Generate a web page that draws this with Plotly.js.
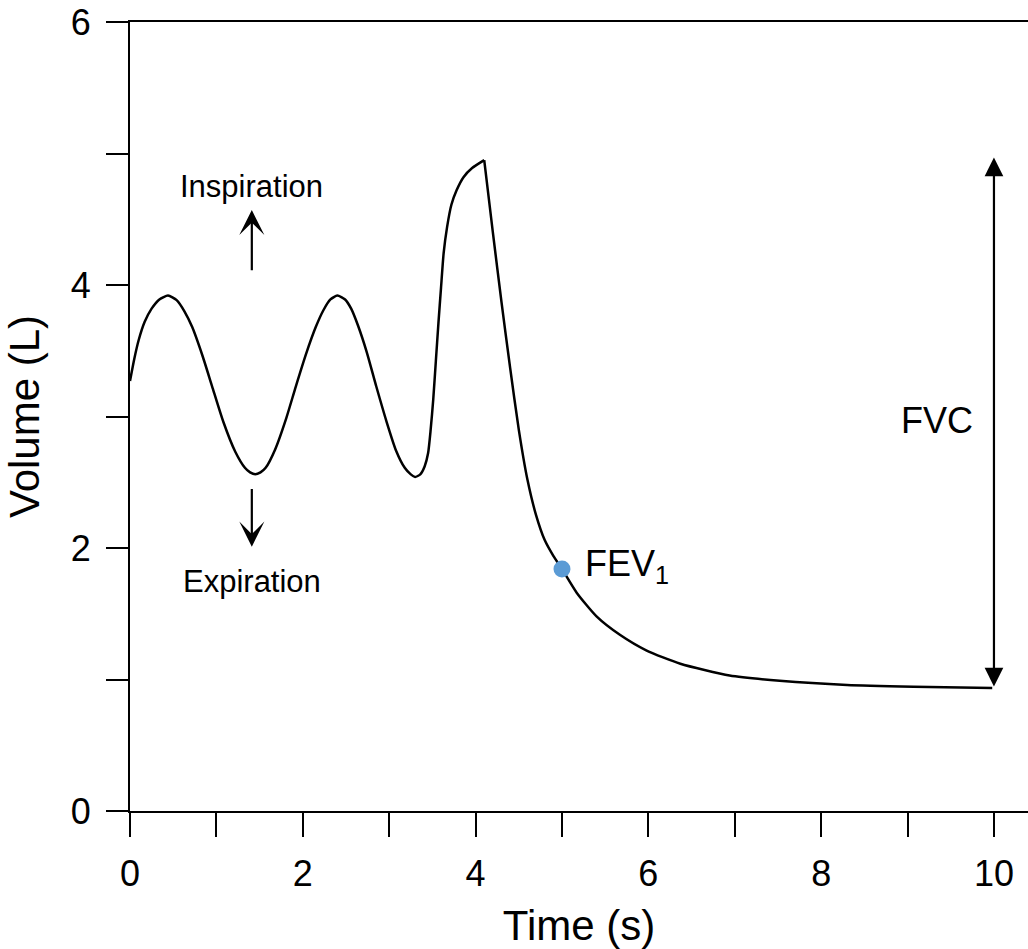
<!DOCTYPE html>
<html>
<head>
<meta charset="utf-8">
<script src="https://cdn.plot.ly/plotly-3.0.1.min.js"></script>
<style>html,body{margin:0;padding:0;background:#fff;}#chart{width:1028px;height:949px;}</style>
</head>
<body>
<div id="chart"></div>
<script>
// Tidal breathing and maximal inspiration (time in s, volume in L)
var timeInhale = [0, 0.05, 0.1, 0.17, 0.25, 0.34, 0.44, 0.54, 0.63, 0.72, 0.84, 0.95, 1.08, 1.22, 1.33, 1.39, 1.45, 1.51, 1.57, 1.68, 1.81, 1.92, 2.04, 2.15, 2.24, 2.32, 2.40, 2.49, 2.56, 2.64, 2.74, 2.85, 2.97, 3.08, 3.18, 3.25, 3.30, 3.36, 3.41, 3.45, 3.48, 3.51, 3.54, 3.57, 3.60, 3.63, 3.67, 3.72, 3.78, 3.86, 3.96, 4.10];
var volInhale  = [3.27, 3.44, 3.58, 3.72, 3.82, 3.89, 3.92, 3.885, 3.80, 3.68, 3.46, 3.23, 2.96, 2.73, 2.61, 2.575, 2.56, 2.575, 2.61, 2.75, 2.99, 3.23, 3.48, 3.68, 3.81, 3.89, 3.92, 3.89, 3.82, 3.69, 3.49, 3.23, 2.96, 2.74, 2.61, 2.56, 2.54, 2.56, 2.62, 2.72, 2.90, 3.13, 3.42, 3.71, 3.98, 4.24, 4.44, 4.61, 4.72, 4.82, 4.89, 4.95];
// Forced expiration
var timeExhale = [4.10, 4.20, 4.30, 4.40, 4.50, 4.60, 4.70, 4.80, 4.90, 5.0, 5.17, 5.40, 5.67, 5.98, 6.37, 6.94, 7.52, 8.30, 9.07, 9.98];
var volExhale  = [4.95, 4.40, 3.87, 3.37, 2.90, 2.52, 2.25, 2.06, 1.94, 1.84, 1.66, 1.48, 1.34, 1.22, 1.12, 1.03, 0.99, 0.958, 0.945, 0.935];
// FEV1 point
var fevTime = [5.0];
var fevVol = [1.84];
// FVC span
var fvcTime = 10;
var fvcTop = 4.97;
var fvcBottom = 0.935;
// Ticks
var xTickVals = [0, 1, 2, 3, 4, 5, 6, 7, 8, 9, 10];
var xTickText = ['0', '', '2', '', '4', '', '6', '', '8', '', '10'];
var yTickVals = [0, 1, 2, 3, 4, 5, 6];
var yTickText = ['0', '', '2', '', '4', '', '6'];

var FONT = '"Liberation Sans", Arial, sans-serif';

var traces = [
  {x: timeInhale, y: volInhale, mode: 'lines', line: {color: '#000', width: 2.5, shape: 'spline', smoothing: 0.6}, hoverinfo: 'skip', showlegend: false},
  {x: timeExhale, y: volExhale, mode: 'lines', line: {color: '#000', width: 2.5, shape: 'spline', smoothing: 0.6}, hoverinfo: 'skip', showlegend: false},
  {x: fevTime, y: fevVol, mode: 'markers', marker: {color: '#5B9BD5', size: 17}, showlegend: false}
];

var layout = {
  width: 1028, height: 949,
  margin: {l: 130, r: 0, t: 22, b: 138, pad: 0},
  paper_bgcolor: '#fff', plot_bgcolor: '#fff',
  font: {family: FONT, color: '#000'},
  showlegend: false,
  xaxis: {
    range: [0, 10.394], autorange: false,
    tickvals: xTickVals, ticktext: xTickText,
    ticks: 'outside', ticklen: 24, tickwidth: 2, tickcolor: '#000',
    ticklabelstandoff: 6,
    showline: true, linecolor: '#000', linewidth: 2, mirror: true,
    showgrid: false, zeroline: false,
    tickfont: {size: 36, family: FONT, color: '#000'},
    title: {text: 'Time (s)', font: {size: 42, family: FONT, color: '#000'}, standoff: 26}
  },
  yaxis: {
    range: [0, 6], autorange: false,
    tickvals: yTickVals, ticktext: yTickText,
    ticks: 'outside', ticklen: 22, tickwidth: 2, tickcolor: '#000',
    ticklabelstandoff: 8,
    showline: true, linecolor: '#000', linewidth: 2,
    showgrid: false, zeroline: false,
    tickfont: {size: 36, family: FONT, color: '#000'},
    title: {text: 'Volume (L)', font: {size: 42, family: FONT, color: '#000'}, standoff: 18}
  },
  annotations: [
    {x: 1.41, y: 4.749, xref: 'x', yref: 'y', text: 'Inspiration', showarrow: false, font: {size: 31, family: FONT, color: '#000'}},
    {x: 1.41, y: 4.57, xref: 'x', yref: 'y', ax: 1.41, ay: 4.10, axref: 'x', ayref: 'y', text: '', showarrow: true, arrowhead: 3, arrowsize: 1.9, arrowwidth: 2.2, arrowcolor: '#000', standoff: 0},
    {x: 1.41, y: 1.745, xref: 'x', yref: 'y', text: 'Expiration', showarrow: false, font: {size: 31, family: FONT, color: '#000'}},
    {x: 1.41, y: 2.01, xref: 'x', yref: 'y', ax: 1.41, ay: 2.46, axref: 'x', ayref: 'y', text: '', showarrow: true, arrowhead: 3, arrowsize: 1.9, arrowwidth: 2.2, arrowcolor: '#000', standoff: 0},
    {x: 9.34, y: 2.97, xref: 'x', yref: 'y', text: 'FVC', showarrow: false, font: {size: 36, family: FONT, color: '#000'}},
    {x: fvcTime, y: fvcTop, xref: 'x', yref: 'y', ax: fvcTime, ay: fvcBottom, axref: 'x', ayref: 'y', text: '', showarrow: true, arrowside: 'end+start', arrowhead: 2, startarrowhead: 2, arrowsize: 1.7, startarrowsize: 1.7, arrowwidth: 2.2, arrowcolor: '#000', standoff: 0, startstandoff: 0},
    {x: 5.24, y: 1.865, xref: 'x', yref: 'y', xanchor: 'left', yanchor: 'middle', text: 'FEV<sub>1</sub>', showarrow: false, font: {size: 36, family: FONT, color: '#000'}}
  ]
};

Plotly.newPlot('chart', traces, layout, {displayModeBar: false, staticPlot: true});
</script>
</body>
</html>
